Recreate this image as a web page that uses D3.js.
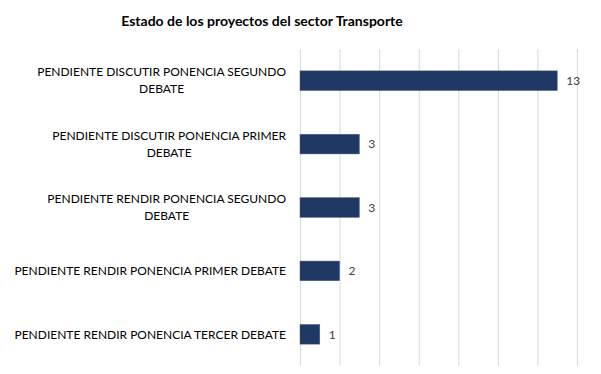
<!DOCTYPE html>
<html>
<head>
<meta charset="utf-8">
<script src="https://cdn.jsdelivr.net/npm/d3@7"></script>
<style>
  body { margin: 0; background: #fff; }
  svg { font-family: Lato, "Open Sans", sans-serif; }
</style>
</head>
<body>
<div class="container"></div>
<script>
const title = 'Estado de los proyectos del sector Transporte'
const categories = [
  'PENDIENTE DISCUTIR PONENCIA SEGUNDO DEBATE',
  'PENDIENTE DISCUTIR PONENCIA PRIMER DEBATE',
  'PENDIENTE RENDIR PONENCIA SEGUNDO DEBATE',
  'PENDIENTE RENDIR PONENCIA PRIMER DEBATE',
  'PENDIENTE RENDIR PONENCIA TERCER DEBATE'
]
const values = [13, 3, 3, 2, 1]
const xTicks = [0, 2, 4, 6, 8, 10, 12, 14]

const width = 601
const height = 374
const margin = { top: 49, right: 24, bottom: 8, left: 300 }

const svg = d3.select('.container')
  .append('svg')
    .attr('width', width)
    .attr('height', height)

svg.append('text')
  .attr('x', 262)
  .attr('y', 26)
  .attr('text-anchor', 'middle')
  .attr('font-weight', 'bold')
  .attr('font-size', 14)
  .attr('fill', '#000')
  .text(title)

const xScale = d3.scaleLinear()
  .domain([0, 14])
  .range([margin.left, width - margin.right])

const yScale = d3.scaleBand()
  .domain(categories)
  .range([margin.top, height - margin.bottom])
  .paddingInner(0.69)
  .paddingOuter(0.345)

// vertical gridlines
svg.append('g')
  .attr('transform', `translate(0, ${height - margin.bottom})`)
  .call(d3.axisBottom(xScale).tickValues(xTicks).tickSize(-(height - margin.top - margin.bottom)).tickFormat(''))
  .call(g => g.select('.domain').remove())
  .call(g => g.selectAll('.tick line').attr('stroke', '#d9d9d9').attr('stroke-width', 1))

svg.selectAll('rect.bar')
  .data(values)
  .enter()
  .append('rect')
  .attr('class', 'bar')
  .attr('x', xScale(0))
  .attr('y', (d, i) => yScale(categories[i]))
  .attr('width', d => xScale(d) - xScale(0))
  .attr('height', yScale.bandwidth())
  .attr('fill', '#203864')
  .attr('stroke', '#4a5f86')
  .attr('stroke-width', 0.5)

svg.selectAll('text.value')
  .data(values)
  .enter()
  .append('text')
  .attr('class', 'value')
  .attr('x', d => xScale(d) + 9)
  .attr('y', (d, i) => yScale(categories[i]) + yScale.bandwidth() / 2)
  .attr('dy', '0.35em')
  .attr('font-size', 12)
  .attr('fill', '#404040')
  .text(d => d)

// category labels, wrapped and centred inside a right-aligned block
const labelRight = 286
const wrapWidth = 272
const fontSize = 12
const lineGap = 17

const yAxis = svg.append('g').attr('class', 'y-labels')

categories.forEach(c => {
  const t = yAxis.append('text')
    .attr('font-size', fontSize)
    .attr('fill', '#000')
    .attr('text-anchor', 'middle')
  const words = c.split(' ')
  const lines = []
  let line = []
  const probe = t.append('tspan')
  words.forEach(w => {
    const test = line.concat(w).join(' ')
    probe.text(test)
    if (probe.node().getComputedTextLength() > wrapWidth && line.length) {
      lines.push(line.join(' '))
      line = [w]
    } else {
      line.push(w)
    }
  })
  lines.push(line.join(' '))
  let maxW = 0
  lines.forEach(l => {
    probe.text(l)
    maxW = Math.max(maxW, probe.node().getComputedTextLength())
  })
  probe.remove()
  const cx = labelRight - maxW / 2
  const cy = yScale(c) + yScale.bandwidth() / 2
  lines.forEach((l, i) => {
    t.append('tspan')
      .attr('x', cx)
      .attr('y', cy + (i - (lines.length - 1) / 2) * lineGap)
      .attr('dy', '0.35em')
      .text(l)
  })
})
</script>
</body>
</html>
